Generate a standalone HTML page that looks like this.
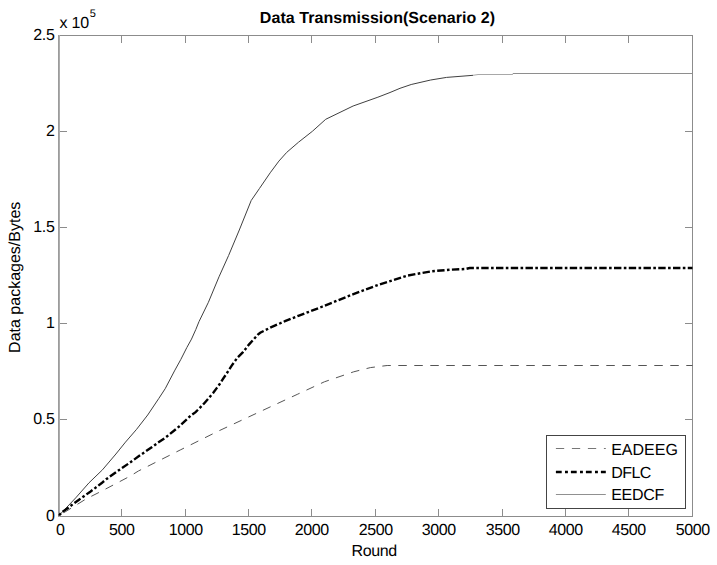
<!DOCTYPE html>
<html><head><meta charset="utf-8"><title>Data Transmission(Scenario 2)</title>
<style>
html,body{margin:0;padding:0;background:#fff;width:717px;height:565px;overflow:hidden}
svg{display:block}
text{font-family:"Liberation Sans",sans-serif;font-size:16px;fill:#000}
svg text{text-rendering:geometricPrecision}
</style></head><body>
<svg width="717" height="565" viewBox="0 0 717 565">
<path d="M58 35.5H693M58 516.5H693M692.5 35V517" stroke="#8c8c8c" stroke-width="1" fill="none"/>
<rect x="58" y="35" width="1" height="482" fill="#9c9c9c"/><rect x="59" y="35" width="1" height="482" fill="#acacac"/>
<path d="M121.5 516V509M121.5 36V43M185.5 516V509M185.5 36V43M248.5 516V509M248.5 36V43M311.5 516V509M311.5 36V43M375.5 516V509M375.5 36V43M438.5 516V509M438.5 36V43M502.5 516V509M502.5 36V43M565.5 516V509M565.5 36V43M628.5 516V509M628.5 36V43M60 419.5H67M692 419.5H685M60 323.5H67M692 323.5H685M60 227.5H67M692 227.5H685M60 131.5H67M692 131.5H685" stroke="#8c8c8c" stroke-width="1" fill="none"/>
<polyline points="58.5,516.0 75.7,497.9 89.0,482.8 102.4,469.9 115.9,454.0 125.5,442.1 136.6,429.3 147.7,415.0 158.9,398.3 165.2,388.7 174.5,370.9 180.9,359.3 186.8,347.6 191.5,339.1 195.8,329.5 199.0,321.6 208.4,302.3 219.0,276.8 228.6,255.5 239.3,230.0 251.2,200.5 259.5,188.4 270.2,172.8 278.9,161.1 286.7,152.4 298.4,142.3 312.5,131.2 325.7,119.3 353.1,106.0 377.9,97.2 390.0,92.5 400.0,88.3 411.2,84.5 430.7,80.0 446.6,77.4 458.0,76.5 473.2,75.3" fill="none" stroke="#404040" stroke-width="1" stroke-linejoin="round"/>
<polyline points="473.2,75.3 478.0,74.5 512.5,74.5" fill="none" stroke="#a8a8a8" stroke-width="1"/>
<polyline points="512.5,74.5 513.0,73.5 692.5,73.5" fill="none" stroke="#8e8e8e" stroke-width="1"/>
<polyline points="58.5,516.0 61.6,512.6 67.2,508.6 73.1,503.9 78.7,499.9 84.3,495.9 90.3,491.7 95.4,487.9 101.4,483.3 106.2,479.2 117.7,471.0 129.4,463.0 140.0,455.3 151.7,447.3 158.1,442.6 165.2,437.8 179.0,426.6 190.8,415.6 195.6,412.1 199.6,408.1 203.9,403.7 209.1,397.7 213.1,392.9 216.7,388.1 219.9,383.8 223.5,378.2 226.3,374.0 231.7,365.6 237.3,357.8 243.0,352.1 248.9,344.6 257.9,334.6 260.2,332.7 270.8,327.4 285.0,321.2 299.0,315.6 321.4,307.0 352.8,294.4 377.9,285.0 407.2,275.6 432.0,271.2 451.0,269.7 465.6,269.0 469.7,268.0 692.5,268.0" fill="none" stroke="#000" stroke-width="2.4" stroke-dasharray="7.4 2.4 2.6 2.35" stroke-dashoffset="8.82"/>
<polyline points="58.5,516.0 86.3,498.8 100.5,491.7 130.2,476.1 138.4,471.0 180.2,450.0 217.9,431.3 270.0,407.0 297.2,394.4 324.4,381.8 353.7,371.8 370.4,367.6 387.2,365.5 420.0,365.5 692.5,365.5" fill="none" stroke="#555" stroke-width="1" stroke-dasharray="8.5 7.5" stroke-dashoffset="9.72"/>
<text x="60.2" y="535.3" text-anchor="middle" letter-spacing="-0.4">0</text>
<text x="121.8" y="535.3" text-anchor="middle" letter-spacing="-0.4">500</text>
<text x="185.8" y="535.3" text-anchor="middle" letter-spacing="-0.4">1000</text>
<text x="248.8" y="535.3" text-anchor="middle" letter-spacing="-0.4">1500</text>
<text x="311.8" y="535.3" text-anchor="middle" letter-spacing="-0.4">2000</text>
<text x="375.8" y="535.3" text-anchor="middle" letter-spacing="-0.4">2500</text>
<text x="438.8" y="535.3" text-anchor="middle" letter-spacing="-0.4">3000</text>
<text x="502.8" y="535.3" text-anchor="middle" letter-spacing="-0.4">3500</text>
<text x="565.8" y="535.3" text-anchor="middle" letter-spacing="-0.4">4000</text>
<text x="628.8" y="535.3" text-anchor="middle" letter-spacing="-0.4">4500</text>
<text x="692.8" y="535.3" text-anchor="middle" letter-spacing="-0.4">5000</text>
<text x="54.5" y="521.2" text-anchor="end" letter-spacing="-0.3">0</text>
<text x="54.5" y="424.2" text-anchor="end" letter-spacing="-0.3">0.5</text>
<text x="54.5" y="328.2" text-anchor="end" letter-spacing="-0.3">1</text>
<text x="54.5" y="232.2" text-anchor="end" letter-spacing="-0.3">1.5</text>
<text x="54.5" y="136.2" text-anchor="end" letter-spacing="-0.3">2</text>
<text x="54.5" y="40.2" text-anchor="end" letter-spacing="-0.3">2.5</text>
<text x="59.5" y="27.5" letter-spacing="-0.23">x 10</text><text x="89.8" y="16.6" style="font-size:11px">5</text>
<text x="377.5" y="23.3" text-anchor="middle" font-weight="bold" letter-spacing="0.05">Data Transmission(Scenario 2)</text>
<text x="374.2" y="555.7" text-anchor="middle" letter-spacing="-0.36">Round</text>
<text transform="translate(19.8 277.3) rotate(-90)" text-anchor="middle" letter-spacing="0">Data packages/Bytes</text>
<rect x="546.5" y="435.5" width="139" height="73" fill="#fff" stroke="#444" stroke-width="1"/>
<line x1="555.9" y1="448.5" x2="605.8" y2="448.5" stroke="#777" stroke-width="1" stroke-dasharray="8.3 7.7"/>
<line x1="555.9" y1="472" x2="605.8" y2="472" stroke="#000" stroke-width="2.6" stroke-dasharray="5.8 3.3 2.9 3"/>
<line x1="555.9" y1="494.5" x2="605.8" y2="494.5" stroke="#909090" stroke-width="1"/>
<text x="611.2" y="454.6" letter-spacing="0">EADEEG</text>
<text x="611.2" y="477.8" letter-spacing="-0.53">DFLC</text>
<text x="611.2" y="500" letter-spacing="-0.27">EEDCF</text>
</svg>
</body></html>
